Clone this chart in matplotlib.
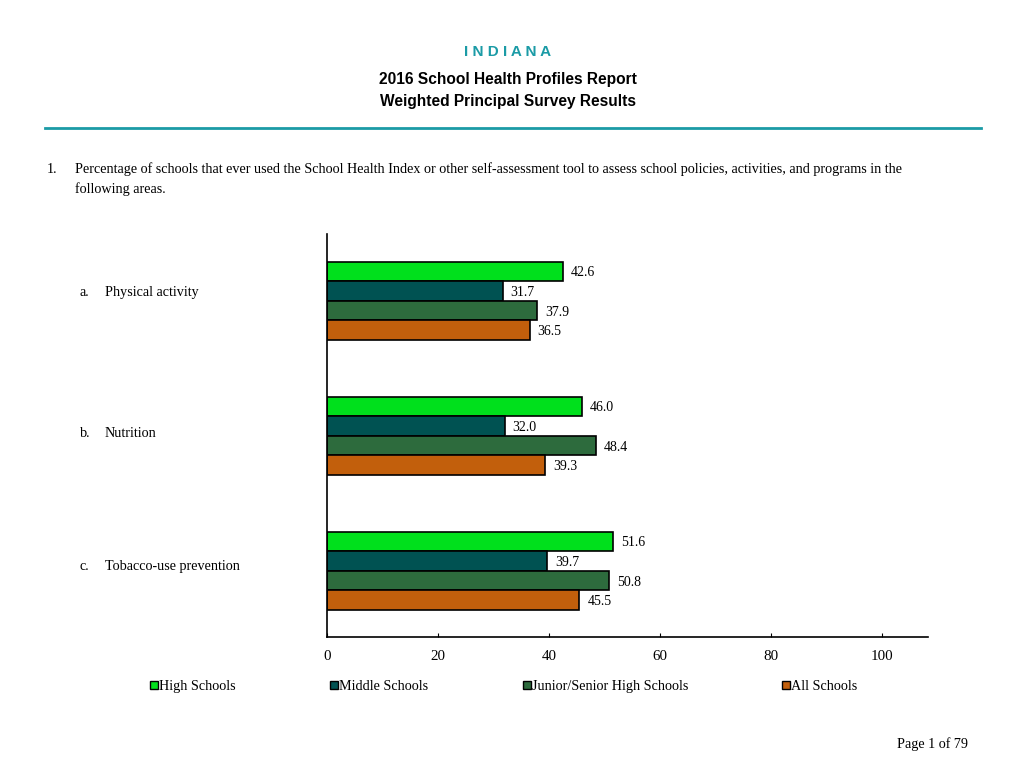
import matplotlib
matplotlib.use("Agg")
import matplotlib.pyplot as plt
import numpy as np

categories = ["Physical activity", "Nutrition", "Tobacco-use prevention"]
cat_letters = ["a.", "b.", "c."]
series_names = ["High Schools", "Middle Schools", "Junior/Senior High Schools", "All Schools"]
high_schools = [42.6, 46.0, 51.6]
middle_schools = [31.7, 32.0, 39.7]
junior_senior = [37.9, 48.4, 50.8]
all_schools = [36.5, 39.3, 45.5]
xticks = [0, 20, 40, 60, 80, 100]

colors = ["#00E01C", "#005252", "#2D6B3D", "#C25F0C"]
series = [high_schools, middle_schools, junior_senior, all_schools]

serif = "Liberation Serif"
sans = "Liberation Sans"
VA = "center_baseline"

fig = plt.figure(figsize=(10.24, 7.68), dpi=100)
ax = fig.add_axes([327/1024, 1 - 637/768, 601/1024, 403/768])

h = 0.145
y = np.arange(len(categories))
for i, (vals, c) in enumerate(zip(series, colors)):
    pos = y + (i - 1.5) * h
    ax.barh(pos, vals, height=h, color=c, edgecolor="black", linewidth=1.2)
    for p, v in zip(pos, vals):
        ax.text(v + 1.4, p, f"{v:.1f}", va=VA, ha="left",
                fontsize=10, family=serif)

ax.set_xlim(0, 108.3)
ax.set_ylim(2.49, -0.495)
ax.set_yticks([])
ax.set_xticks(xticks)
ax.set_xticklabels([str(t) for t in xticks], family=serif, fontsize=10.8)
ax.tick_params(axis="x", direction="in", length=3, pad=9)
for s in ["top", "right"]:
    ax.spines[s].set_visible(False)
ax.spines["left"].set_linewidth(1.2)
ax.spines["bottom"].set_linewidth(1.2)

# category labels
cat_y = [291, 432, 565]
for yp, let, cat in zip(cat_y, cat_letters, categories):
    fig.text(80/1024, 1 - yp/768, let, family=serif, fontsize=10.2, va=VA)
    fig.text(105/1024, 1 - yp/768, cat, family=serif, fontsize=10.2, va=VA)

# header
fig.text(508/1024, 1 - 50/768, "I N D I A N A", ha="center", va=VA,
         family=sans, fontweight="bold", fontsize=11, color="#1B9BA6")
fig.text(508/1024, 1 - 78/768, "2016 School Health Profiles Report", ha="center", va=VA,
         family=sans, fontweight="bold", fontsize=11.2)
fig.text(508/1024, 1 - 100/768, "Weighted Principal Survey Results", ha="center", va=VA,
         family=sans, fontweight="bold", fontsize=11.2)
fig.add_artist(plt.Line2D([45/1024, 981/1024], [1 - 128/768] * 2, color="#1B9BA6", linewidth=2))

fig.text(47/1024, 1 - 168/768, "1.", family=serif, fontsize=10.2, va=VA)
fig.text(75/1024, 1 - 168/768,
         "Percentage of schools that ever used the School Health Index or other self-assessment tool to assess school policies, activities, and programs in the",
         family=serif, fontsize=10.2, va=VA)
fig.text(75/1024, 1 - 188/768, "following areas.", family=serif, fontsize=10.2, va=VA)

# legend
leg_x = [150, 330, 523, 782]
for lx, name, c in zip(leg_x, series_names, colors):
    fig.patches.append(plt.Rectangle((lx/1024, 1 - 689/768), 8/1024, 8/768,
                                     facecolor=c, edgecolor="black", linewidth=1,
                                     transform=fig.transFigure))
    fig.text((lx + 9)/1024, 1 - 685/768, name, family=serif, fontsize=10.2, va=VA)

fig.text(968/1024, 1 - 743/768, "Page 1 of 79", family=serif, fontsize=10.2,
         va=VA, ha="right")

fig.savefig("out.png", dpi=100)
